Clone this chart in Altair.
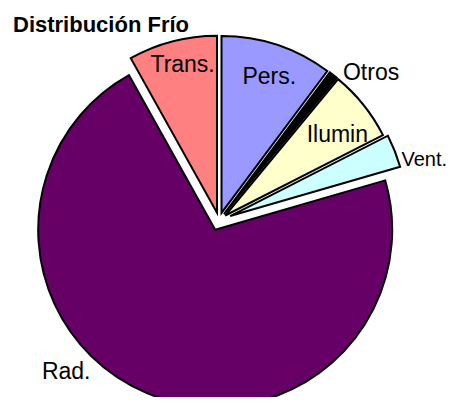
import math
import pandas as pd
import altair as alt

# ---- data ----
categories = ["Pers.", "Otros", "Ilumin", "Vent.", "Rad.", "Trans."]
values = [10.2, 0.8, 6.5, 3.0, 71.4, 8.1]
title_text = "Distribución Frío"

# ---- styling ----
colors = ["#9999FF", "#000000", "#FFFFCC", "#CCFFFF", "#660066", "#FF8080"]
explode = [8, 8, 8, 12, 10, 8]
label_radius = [144, 204, 138, 202, 206, 152]
label_shift = [1, 8, 3, 5.5, 24, 1.5]
label_size = [23, 23, 23, 20, 23, 23]
CX, CY, R = 211, 212.5, 177

total = sum(values)
rows = []
cum = 0.0
for i, (c, v) in enumerate(zip(categories, values)):
    start, end = cum, cum + v
    cum = end
    mid = (start + end) / 2 / total * 2 * math.pi
    cx = CX + explode[i] * math.sin(mid)
    cy = CY - explode[i] * math.cos(mid)
    la = mid + math.radians(label_shift[i])
    rows.append(dict(cat=c, value=v, start=start, end=end, idx=i, cx=cx, cy=cy,
                     fs=label_size[i],
                     lx=cx + label_radius[i] * math.sin(la),
                     ly=cy - label_radius[i] * math.cos(la)))
df = pd.DataFrame(rows)

base = alt.Chart(df)
arcs = base.mark_arc(radius=R, stroke="black", strokeWidth=2).encode(
    theta=alt.Theta("start:Q", scale=alt.Scale(domain=[0, total], range=[0, 2 * math.pi])),
    theta2="end:Q",
    x=alt.X("cx:Q", scale=None, axis=None),
    y=alt.Y("cy:Q", scale=None, axis=None),
    color=alt.Color("cat:N", scale=alt.Scale(domain=categories, range=colors), legend=None),
    order=alt.Order("idx:Q"),
)
labels = base.mark_text(font="Liberation Sans", color="black",
                        align="center", baseline="middle").encode(
    x=alt.X("lx:Q", scale=None, axis=None),
    y=alt.Y("ly:Q", scale=None, axis=None),
    size=alt.Size("fs:Q", scale=None, legend=None),
    text="cat:N",
)
title = alt.Chart(pd.DataFrame({"t": [title_text]})).mark_text(
    font="Liberation Sans", fontSize=22, fontWeight="bold", align="left",
    baseline="alphabetic", color="black").encode(
    x=alt.value(5), y=alt.value(24), text="t:N")

chart = alt.layer(arcs, labels, title).properties(
    width=441, height=389, padding=0, autosize="none", background="white"
).configure_view(stroke=None)

chart.save("out.html", embed_options={"renderer": "svg", "actions": False})
